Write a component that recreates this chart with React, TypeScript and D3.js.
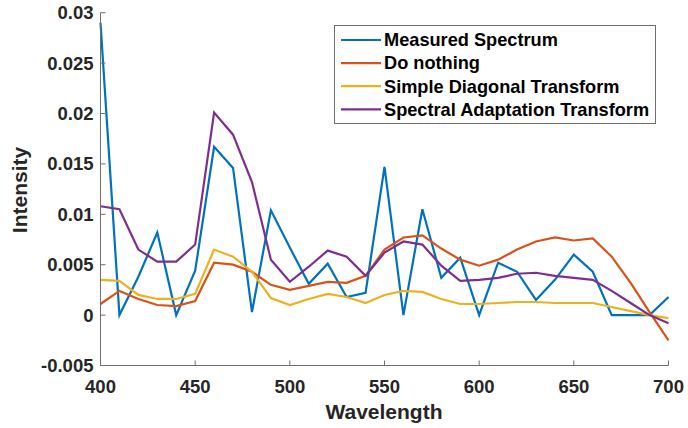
import React from "react";
import * as d3 from "d3";

const wavelengths = d3.range(400, 701, 10);
const measured = [0.029, 0, 0.0038, 0.0082, 0, 0.0044, 0.0167, 0.0146, 0.0003, 0.0104, 0.0067, 0.0031, 0.0051, 0.0018, 0.0022, 0.0147, 0, 0.0105, 0.0037, 0.0057, 0, 0.0052, 0.0043, 0.0015, 0.0035, 0.006, 0.0043, 0, 0, 0, 0.0018];
const doNothing = [0.0011, 0.0024, 0.0016, 0.001, 0.0009, 0.0014, 0.0052, 0.005, 0.0043, 0.003, 0.0025, 0.0029, 0.0033, 0.0032, 0.0039, 0.0065, 0.0077, 0.0079, 0.0066, 0.0055, 0.0049, 0.0055, 0.0065, 0.0073, 0.0077, 0.0074, 0.0076, 0.0058, 0.0032, 0.0003, -0.0025];
const simpleDiag = [0.0035, 0.0034, 0.002, 0.0016, 0.0016, 0.0021, 0.0065, 0.0058, 0.0043, 0.0017, 0.001, 0.0016, 0.0021, 0.0018, 0.0012, 0.002, 0.0024, 0.0023, 0.0016, 0.0011, 0.0011, 0.0012, 0.0013, 0.0013, 0.0012, 0.0012, 0.0012, 0.0008, 0.0004, 0, -0.0003];
const spectralAdapt = [0.0108, 0.0105, 0.0065, 0.0053, 0.0053, 0.007, 0.0201, 0.0179, 0.0132, 0.0055, 0.0033, 0.0048, 0.0064, 0.0058, 0.0039, 0.0062, 0.0073, 0.007, 0.0049, 0.0034, 0.0035, 0.0037, 0.0041, 0.0042, 0.0039, 0.0037, 0.0035, 0.0024, 0.0012, 0, -0.0008];

const seriesNames = ["Measured Spectrum", "Do nothing", "Simple Diagonal Transform", "Spectral Adaptation Transform"];
const seriesColors = ["#0072BD", "#D95319", "#EDB120", "#7E2F8E"];
const seriesValues = [measured, doNothing, simpleDiag, spectralAdapt];

const xTicks = [400, 450, 500, 550, 600, 650, 700];
const yTicks = [-0.005, 0, 0.005, 0.01, 0.015, 0.02, 0.025, 0.03];
const yTickLabels = ["-0.005", "0", "0.005", "0.01", "0.015", "0.02", "0.025", "0.03"];

export default function App() {
  const W = 688, H = 428;
  const left = 100.5, right = 668.5, top = 12.7, bottom = 365.5;
  const x = d3.scaleLinear().domain([400, 700]).range([left, right]);
  const y = d3.scaleLinear().domain([-0.005, 0.03]).range([bottom, top]);
  const line = d3.line<number>().x((_, i) => x(wavelengths[i])).y((d) => y(d));
  const font = "'Liberation Sans', Arial, sans-serif";
  const textColor = "#262626";
  const axisColor = "#6e6e6e";
  const legend = { x: 334.5, y: 25.5, w: 321, h: 98 };
  return (
    <svg width={W} height={H} style={{ position: "absolute", left: 0, top: 0, background: "#fff" }} fontFamily={font}>
      <rect x={0} y={0} width={W} height={H} fill="#fff" />
      {seriesValues.map((vals, i) => (
        <path key={i} d={line(vals) || ""} fill="none" stroke={seriesColors[i]} strokeWidth={2.2} strokeLinejoin="miter" />
      ))}
      {/* axes */}
      <line x1={left} x2={left} y1={top} y2={bottom} stroke={axisColor} strokeWidth={1} />
      <line x1={left} x2={right} y1={bottom} y2={bottom} stroke={axisColor} strokeWidth={1} />
      {yTicks.map((t, i) => (
        <g key={"y" + i}>
          <line x1={left} x2={left + 5} y1={y(t)} y2={y(t)} stroke={axisColor} />
          <text x={left - 7} y={y(t)} dy="0.35em" textAnchor="end" fontSize={18.5} fontWeight="bold" fill={textColor}>{yTickLabels[i]}</text>
        </g>
      ))}
      {xTicks.map((t) => (
        <g key={"x" + t}>
          <line x1={x(t)} x2={x(t)} y1={bottom} y2={bottom - 5} stroke={axisColor} />
          <text x={x(t)} y={393} textAnchor="middle" fontSize={18.5} fontWeight="bold" fill={textColor}>{t}</text>
        </g>
      ))}
      <text x={384} y={419} textAnchor="middle" fontSize={21} fontWeight="bold" fill={textColor}>Wavelength</text>
      <text transform="translate(27,190) rotate(-90)" textAnchor="middle" fontSize={21} fontWeight="bold" fill={textColor}>Intensity</text>
      {/* legend */}
      <rect x={legend.x} y={legend.y} width={legend.w} height={legend.h} fill="#fff" stroke={axisColor} strokeWidth={1} />
      {seriesNames.map((n, i) => {
        const cy = 40 + i * 23.1;
        return (
          <g key={n}>
            <line x1={341} x2={381} y1={cy} y2={cy} stroke={seriesColors[i]} strokeWidth={2.2} />
            <text x={384} y={cy} dy="0.35em" fontSize={18.2} fontWeight="bold" fill="#000">{n}</text>
          </g>
        );
      })}
    </svg>
  );
}
